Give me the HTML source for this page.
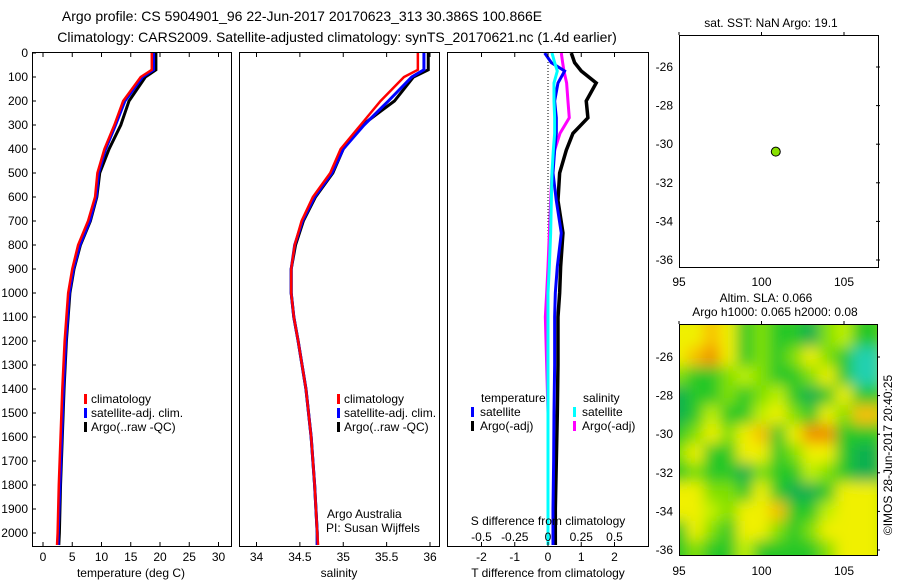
<!DOCTYPE html>
<html><head><meta charset="utf-8"><style>
html,body{margin:0;padding:0;background:#fff;}
svg{display:block;font-family:"Liberation Sans",sans-serif;font-size:12px;}
</style></head><body>
<svg id="c" width="900" height="580" viewBox="0 0 900 580">
<text x="302" y="21" text-anchor="middle" font-size="14">Argo profile: CS 5904901_96 22-Jun-2017 20170623_313 30.386S 100.866E</text>
<text x="337" y="42" text-anchor="middle" font-size="14">Climatology: CARS2009. Satellite-adjusted climatology: synTS_20170621.nc (1.4d earlier)</text>
<g id="g"></g>
</svg>
<script>
// ---- data ----
const depths   = [0, 70, 100, 200, 300, 400, 500, 600, 700, 800, 900, 1000, 1100, 1200, 1400, 1600, 1800, 2000, 2050];
const tempClim = [18.6, 18.6, 16.7, 13.7, 12.2, 10.5, 9.3, 8.9, 7.7, 6.0, 5.0, 4.3, 4.0, 3.7, 3.3, 3.0, 2.7, 2.5, 2.4];
const tempSat  = [18.9, 18.9, 17.0, 14.0, 12.4, 10.7, 9.5, 9.1, 8.0, 6.3, 5.2, 4.5, 4.2, 3.9, 3.5, 3.2, 2.9, 2.6, 2.6];
const tempArgo = [19.3, 19.3, 17.5, 14.7, 13.3, 11.3, 9.7, 9.2, 8.1, 6.4, 5.3, 4.6, 4.3, 4.0, 3.6, 3.3, 3.0, 2.8, 2.7];
const salClim  = [35.86, 35.86, 35.70, 35.43, 35.20, 34.97, 34.85, 34.65, 34.52, 34.44, 34.40, 34.40, 34.43, 34.48, 34.57, 34.63, 34.67, 34.70, 34.71];
const salSat   = [35.93, 35.93, 35.79, 35.52, 35.24, 35.00, 34.87, 34.67, 34.53, 34.44, 34.40, 34.40, 34.43, 34.48, 34.57, 34.63, 34.67, 34.70, 34.70];
const salArgo  = [35.98, 35.98, 35.81, 35.59, 35.22, 35.00, 34.88, 34.68, 34.54, 34.45, 34.40, 34.40, 34.43, 34.48, 34.57, 34.63, 34.67, 34.70, 34.70];
const dDepths  = [0, 40, 75, 125, 200, 270, 335, 405, 500, 615, 750, 890, 1000, 1100, 1300, 1500, 1700, 1900, 2050];
const dTempSat = [-0.1, 0.1, 0.5, 0.3, 0.2, 0.25, 0.25, 0.2, 0.15, 0.25, 0.4, 0.28, 0.22, 0.2, 0.2, 0.18, 0.17, 0.15, 0.15];
const dTempArgo= [0.7, 0.8, 1.0, 1.45, 1.15, 1.2, 0.75, 0.55, 0.35, 0.3, 0.45, 0.38, 0.35, 0.3, 0.3, 0.28, 0.25, 0.22, 0.22];
const dSalSat  = [0.03, 0.05, 0.07, 0.045, 0.045, 0.05, 0.05, 0.04, 0.03, 0.025, 0.02, 0.01, 0.0, 0.0, 0.0, 0.0, 0.0, 0.0, 0.0];
const dSalArgo = [0.1, 0.11, 0.12, 0.14, 0.15, 0.16, 0.09, 0.05, 0.03, 0.02, 0.01, 0.0, -0.01, -0.02, -0.01, 0.0, 0.0, 0.0, 0.0];
const depthTicks = [0,100,200,300,400,500,600,700,800,900,1000,1100,1200,1300,1400,1500,1600,1700,1800,1900,2000];
const tempTicks = [0,5,10,15,20,25,30];
const salTicks = [34,34.5,35,35.5,36];
const salTickLabels = ["34","34.5","35","35.5","36"];
const dTTicks = [-2,-1,0,1,2];
const dSTicks = [-0.5,-0.25,0,0.25,0.5];
const dSTickLabels = ["-0.5","-0.25","0","0.25","0.5"];
const lonTicks = [95,100,105];
const latTicks = [-26,-28,-30,-32,-34,-36];
const argoLon = [100.866];
const argoLat = [-30.386];
const slaLons = [95,96,97,98,99,100,101,102,103,104,105,106];
const slaLats = [-25,-26,-27,-28,-29,-30,-31,-32,-33,-34,-35,-36];
const slaGrid = [
 [5,5,6,5,2,3,2,2,1,3,4,2],
 [5,6,7,5,2,3,2,3,5,3,2,0],
 [3,2,2,3,4,3,2,2,3,5,2,0],
 [1,2,2,3,2,3,4,2,1,2,5,2],
 [1,2,4,2,2,4,5,3,2,5,3,6],
 [2,3,5,3,5,6,2,5,7,7,2,2],
 [3,5,2,2,5,5,2,3,5,5,2,1],
 [2,3,2,2,1,3,2,2,4,3,2,1],
 [5,5,3,3,2,5,2,1,1,2,5,5],
 [5,5,4,3,5,5,6,2,2,4,5,5],
 [2,5,3,2,5,5,3,2,3,5,5,5],
 [2,3,2,2,4,2,2,2,2,3,5,5]];
const slaColors = ["#20d0b0","#10b050","#28c828","#80e000","#c0f000","#f0f000","#f8c000","#f09000"];

// ---- axes ----
const NS="http://www.w3.org/2000/svg", G=document.getElementById('g');
function mk(tag,attrs,parent){const e=document.createElementNS(NS,tag);for(const k in attrs)e.setAttribute(k,attrs[k]);(parent||G).appendChild(e);return e;}
const yD = d => 53 + d*0.24;
const xT = t => 43 + t*5.85;
const xS = s => 256.5 + (s-34)*86.75;
const xDT = v => 548 + v*33.25;
const xDS = v => 548 + v*133;
const xLon = l => 679 + (l-95)*16.5;
const yLat1 = la => 67 + (-26-la)*19.3;
const yLat2 = la => 357 + (-26-la)*19.3;

function line(xs,ys,col,w,name){
  const p=mk('polyline',{points:xs.map((x,i)=>x+','+ys[i]).join(' '),fill:'none',stroke:col,'stroke-width':w,'stroke-linejoin':'miter'});
  
  
}
function box(x,y,w,h,name){const r=mk('rect',{x:x+.5,y:y+.5,width:w,height:h,fill:'none',stroke:'#000'});
  
  }
function txt(x,y,s,anchor,name){const t=mk('text',{x:x,y:y,'text-anchor':anchor||'start'});t.textContent=s;
  
  return t;}

// panel 1 temperature
depthTicks.forEach(d=>{txt(28,yD(d)+4,String(d),'end','depth-tick-label');mk('line',{x1:32,x2:36,y1:yD(d),y2:yD(d),stroke:'#000'});});
tempTicks.forEach(t=>{txt(xT(t),561,String(t),'middle','temp-tick-label');mk('line',{x1:xT(t),x2:xT(t),y1:546,y2:542,stroke:'#000'});mk('line',{x1:xT(t),x2:xT(t),y1:53,y2:57,stroke:'#000'});});
txt(131,577,'temperature (deg C)','middle','temp-axis-title');
line(tempArgo.map(xT),depths.map(yD),'#000',3,'temp-argo-line');
line(tempSat.map(xT),depths.map(yD),'#00f',3,'temp-sat-line');
line(tempClim.map(xT),depths.map(yD),'#f00',2.5,'temp-clim-line');
box(32,52,199,494,'temp-panel');
[['#f00','climatology'],['#00f','satellite-adj. clim.'],['#000','Argo(..raw -QC)']].forEach((l,i)=>{
  mk('rect',{x:84,y:394+i*14,width:3,height:10,fill:l[0]});txt(91,403+i*14,l[1],'start','temp-legend-entry');
  mk('rect',{x:337,y:394+i*14,width:3,height:10,fill:l[0]});txt(344,403+i*14,l[1],'start','sal-legend-entry');});

// panel 2 salinity
salTicks.forEach((s,i)=>{txt(xS(s),561,salTickLabels[i],'middle','sal-tick-label');mk('line',{x1:xS(s),x2:xS(s),y1:546,y2:542,stroke:'#000'});mk('line',{x1:xS(s),x2:xS(s),y1:53,y2:57,stroke:'#000'});});
txt(339,577,'salinity','middle','sal-axis-title');
line(salArgo.map(xS),depths.map(yD),'#000',3,'sal-argo-line');
line(salSat.map(xS),depths.map(yD),'#00f',3,'sal-sat-line');
line(salClim.map(xS),depths.map(yD),'#f00',2.5,'sal-clim-line');
box(239,52,200,494,'sal-panel');
txt(327,518,'Argo Australia','start','credit-line-1');
txt(326,532,'PI: Susan Wijffels','start','credit-line-2');

// panel 3 differences
mk('line',{x1:548,x2:548,y1:53,y2:546,stroke:'#000','stroke-dasharray':'1,2'});
line(dTempArgo.map(xDT),dDepths.map(yD),'#000',3.5,'dtemp-argo-line');
line(dSalArgo.map(xDS),dDepths.map(yD),'#f0f',3,'dsal-argo-line');
line(dTempSat.map(xDT),dDepths.map(yD),'#00f',3,'dtemp-sat-line');
line(dSalSat.map(xDS),dDepths.map(yD),'#0ff',3,'dsal-sat-line');
box(447,52,201,494,'diff-panel');
dTTicks.forEach(v=>{txt(xDT(v),561,String(v),'middle','dtemp-tick-label');mk('line',{x1:xDT(v),x2:xDT(v),y1:546,y2:542,stroke:'#000'});mk('line',{x1:xDT(v),x2:xDT(v),y1:53,y2:57,stroke:'#000'});});
dSTicks.forEach((v,i)=>txt(xDS(v),541,dSTickLabels[i],'middle','dsal-tick-label'));
txt(548,525,'S difference from climatology','middle','dsal-axis-title');
txt(548,577,'T difference from climatology','middle','dtemp-axis-title');
txt(481,402,'temperature','start','legend-temperature-heading');
txt(583,402,'salinity','start','legend-salinity-heading');
[['#00f','satellite',471],['#000','Argo(-adj)',471],['#0ff','satellite',573],['#f0f','Argo(-adj)',573]].forEach((l,i)=>{
  const r=i%2; mk('rect',{x:l[2],y:407+r*14,width:3,height:10,fill:l[0]});txt(l[2]+9,416+r*14,l[1],'start','diff-legend-entry');});

// map 1
txt(771,27,'sat. SST: NaN Argo: 19.1','middle','map1-title');
box(679,35,199,232,'sst-map');
latTicks.forEach(la=>{txt(673,yLat1(la)+4,String(la),'end','map1-lat-label');mk('line',{x1:876,x2:880,y1:yLat1(la),y2:yLat1(la),stroke:'#000'});
  txt(673,yLat2(la)+4,String(la),'end','map2-lat-label');mk('line',{x1:876,x2:880,y1:yLat2(la),y2:yLat2(la),stroke:'#000'});});
lonTicks.forEach(l=>{txt(xLon(l),286,String(l),'middle','map1-lon-label');mk('line',{x1:xLon(l),x2:xLon(l),y1:35,y2:32,stroke:'#000'});
  txt(xLon(l),575,String(l),'middle','map2-lon-label');mk('line',{x1:xLon(l),x2:xLon(l),y1:324,y2:321,stroke:'#000'});});
argoLon.forEach((l,i)=>{const c=mk('circle',{cx:xLon(l),cy:yLat1(argoLat[i]),r:4.5,fill:'#88e000',stroke:'#000'});
  
  });
txt(766,302,'Altim. SLA: 0.066','middle','map2-title-1');
txt(775,316,'Argo h1000: 0.065 h2000: 0.08','middle','map2-title-2');

// map 2 heatmap
const defs=mk('defs',{});
const cp=mk('clipPath',{id:'cp2'},defs);mk('rect',{x:680,y:325,width:197,height:230},cp);
const fl=mk('filter',{id:'bl',x:'-10%',y:'-10%',width:'120%',height:'120%'},defs);mk('feGaussianBlur',{stdDeviation:'7'},fl);
const hg=mk('g',{'clip-path':'url(#cp2)'});
const hg2=mk('g',{filter:'url(#bl)'},hg);
mk('rect',{x:660,y:305,width:240,height:270,fill:'#80e000'},hg2);
slaGrid.forEach((row,ri)=>row.forEach((v,ci)=>{
  const cx=xLon(slaLons[ci]), cy=yLat2(slaLats[ri]);
  const w = (ci===0||ci===row.length-1)?30:17, h=(ri===0||ri===slaGrid.length-1)?32:20;
  const x0 = ci===0 ? cx-w+8.5 : cx-8.5, y0 = ri===0 ? cy-h+10 : cy-10;
  const r=mk('rect',{x:x0,y:y0,width:w,height:h,fill:slaColors[v]},hg2);
  
  
}));
box(679,324,198,231,'sla-map');
const rt=txt(0,0,'©IMOS 28-Jun-2017 20:40:25','middle','timestamp');
rt.setAttribute('transform','translate(892,455) rotate(-90)');
</script>
</body></html>
